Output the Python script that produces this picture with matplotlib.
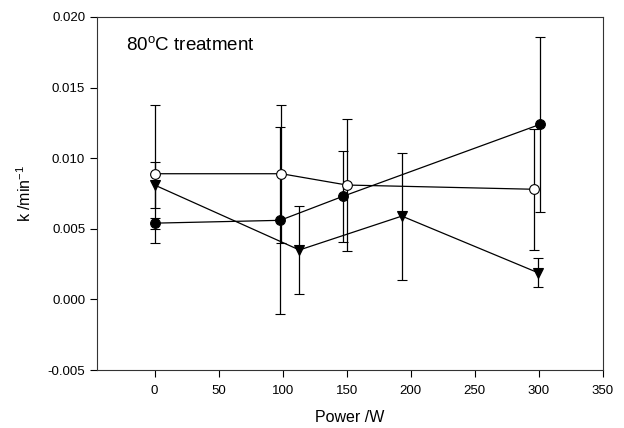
import matplotlib
matplotlib.use("Agg")
import matplotlib.pyplot as plt

plt.rcParams['font.family'] = ['Liberation Sans', 'DejaVu Sans']

# filled circles
filled_x = [0, 98, 147, 301]
filled_y = [0.0054, 0.0056, 0.0073, 0.0124]
filled_err = [0.0004, 0.0066, 0.0032, 0.0062]

# open circles
open_x = [0, 99, 150, 296]
open_y = [0.0089, 0.0089, 0.0081, 0.0078]
open_err = [0.0049, 0.0049, 0.0047, 0.0043]

# down triangles
tri_x = [0, 113, 193, 299]
tri_y = [0.0081, 0.0035, 0.0059, 0.0019]
tri_err = [0.0016, 0.0031, 0.0045, 0.0010]

x_ticks = [0, 50, 100, 150, 200, 250, 300, 350]
y_ticks = [-0.005, 0.000, 0.005, 0.010, 0.015, 0.020]

fig = plt.figure(figsize=(6.24, 4.28), dpi=100)
ax = fig.add_axes([0.1554, 0.1355, 0.8109, 0.8248])

common = dict(color='black', lw=0.9, elinewidth=0.9, capsize=3.6,
              capthick=0.9, markersize=7, markeredgewidth=0.8)

ax.errorbar(open_x, open_y, yerr=open_err, fmt='-o', mfc='white',
            mec='black', **common)
ax.errorbar(tri_x, tri_y, yerr=tri_err, fmt='-v', mfc='black',
            mec='black', **common)
ax.errorbar(filled_x, filled_y, yerr=filled_err, fmt='-o', mfc='black',
            mec='black', **common)

ax.set_xlim(-45, 350)
ax.set_ylim(-0.005, 0.020)
ax.set_xticks(x_ticks)
ax.set_yticks(y_ticks)
ax.set_yticklabels(['%.3f' % v for v in y_ticks])
ax.tick_params(direction='out', length=5, width=0.8, labelsize=9.5,
               top=False, right=False)
ax.tick_params(axis='x', pad=6)
for s in ax.spines.values():
    s.set_linewidth(0.8)
    s.set_color('#333333')

ax.set_xlabel('Power /W', fontsize=11.5, labelpad=9)
ax.set_ylabel('k /min$^{\\mathregular{-1}}$', fontsize=11.5, labelpad=10)

ax.text(0.058, 0.92, '80$^{\\mathregular{o}}$C treatment', transform=ax.transAxes,
        fontsize=13.5, va='center', ha='left')

fig.savefig('out.png', dpi=100)
